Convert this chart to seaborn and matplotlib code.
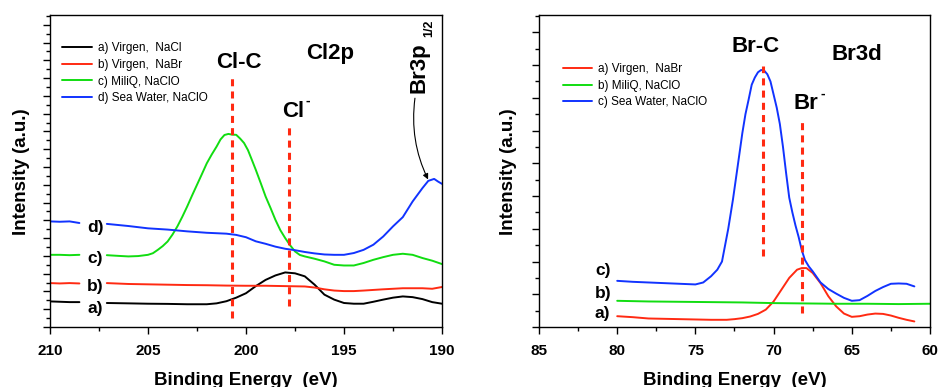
import numpy as np
import pandas as pd
import matplotlib
matplotlib.use("Agg")
import matplotlib.pyplot as plt
from matplotlib.ticker import MultipleLocator
import seaborn as sns

# ---------------- Cl2p panel data (binding energy in eV, intensity a.u.) ----------------
cl_names = ["a) Virgen,  NaCl", "b) Virgen,  NaBr", "c) MiliQ, NaClO", "d) Sea Water, NaClO"]
cl_colors = ["black", "#ff2a12", "#11dd11", "#1133ff"]

# short piece before the label gap
cl_x_start = [210, 209.5, 209, 208.5]
cl_a_start = [1.44, 1.42, 1.40, 1.40]
cl_b_start = [2.47, 2.45, 2.47, 2.45]
cl_c_start = [4.06, 4.06, 4.04, 4.06]
cl_d_start = [5.94, 5.92, 5.94, 5.85]

cl_a_x = [207.1, 206, 205, 204, 203, 202, 201.5, 201, 200.5, 200, 199.5, 199, 198.5, 198, 197.5,
          197, 196.5, 196, 195.5, 195, 194.5, 194, 193.5, 193, 192.5, 192, 191.5, 191, 190.5, 190]
cl_a_y = [1.35, 1.33, 1.31, 1.30, 1.28, 1.28, 1.33, 1.45, 1.65, 1.90, 2.30, 2.65, 2.90, 3.07, 3.02,
          2.85, 2.38, 1.82, 1.54, 1.35, 1.31, 1.31, 1.42, 1.54, 1.65, 1.72, 1.68, 1.57, 1.40, 1.31]

cl_b_x = [207.1, 206, 205, 204, 203, 202, 201, 200, 199, 198, 197, 196.5, 196, 195.5, 195, 194.5,
          194, 193, 192, 191, 190.5, 190]
cl_b_y = [2.47, 2.42, 2.40, 2.38, 2.36, 2.35, 2.33, 2.32, 2.32, 2.30, 2.28, 2.22, 2.12, 2.05, 2.02,
          2.02, 2.05, 2.12, 2.18, 2.18, 2.15, 2.25]

cl_c_x = [207.1, 206.5, 206, 205.5, 205, 204.75, 204.5, 204.25, 204, 203.75, 203.5, 203.25, 203,
          202.75, 202.5, 202.25, 202, 201.75, 201.5, 201.3, 201.1, 200.9, 200.7, 200.5, 200.3,
          200.1, 199.9, 199.7, 199.5, 199.25, 199, 198.75, 198.5, 198.25, 198, 197.75, 197.5,
          197.25, 197, 196.5, 196, 195.5, 195, 194.5, 194, 193.5, 193, 192.5, 192, 191.5, 191,
          190.5, 190]
cl_c_y = [4.04, 4.00, 3.97, 3.99, 4.06, 4.15, 4.34, 4.55, 4.81, 5.20, 5.66, 6.20, 6.78,
          7.40, 8.00, 8.60, 9.21, 9.70, 10.15, 10.55, 10.80, 10.86, 10.82, 10.81, 10.60,
          10.35, 9.95, 9.40, 8.84, 8.10, 7.34, 6.70, 6.03, 5.45, 5.00, 4.60, 4.25,
          4.05, 3.97, 3.84, 3.69, 3.50, 3.46, 3.46, 3.60, 3.78, 3.93, 4.06, 4.12, 4.06, 3.88,
          3.73, 3.54]

cl_d_x = [207.1, 206, 205, 204, 203, 202, 201, 200.5, 200, 199.5, 199, 198.5, 198, 197.5, 197,
          196.5, 196, 195.5, 195, 194.5, 194, 193.5, 193, 192.5, 192, 191.5, 191, 190.7, 190.4,
          190.2, 190]
cl_d_y = [5.80, 5.68, 5.55, 5.48, 5.38, 5.30, 5.25, 5.18, 5.05, 4.82, 4.68, 4.52, 4.40, 4.32, 4.22,
          4.14, 4.08, 4.06, 4.06, 4.16, 4.34, 4.63, 5.09, 5.66, 6.18, 7.06, 7.81, 8.22, 8.33,
          8.18, 8.05]

cl_peaks = [200.7, 197.8]
cl_peak_top = [14.08, 11.42]
cl_peak_bottom = [0.50, 1.16]

# ---------------- Br3d panel data ----------------
br_names = ["a) Virgen,  NaBr", "b) MiliQ, NaClO", "c) Sea Water, NaClO"]
br_colors = ["#ff2a12", "#11dd11", "#1133ff"]

br_a_x = [80, 79, 78, 77, 76, 75, 74, 73, 72.5, 72, 71.5, 71, 70.5, 70, 69.5, 69, 68.5, 68.2, 67.9,
          67.5, 67, 66.5, 66, 65.5, 65, 64.5, 64, 63.5, 63, 62.5, 62, 61.5, 61]
br_a_y = [0.33, 0.30, 0.26, 0.25, 0.24, 0.23, 0.22, 0.22, 0.24, 0.27, 0.32, 0.40, 0.53, 0.78, 1.14,
          1.50, 1.75, 1.80, 1.80, 1.65, 1.34, 0.94, 0.63, 0.41, 0.31, 0.33, 0.38, 0.41, 0.40, 0.35,
          0.28, 0.22, 0.17]

br_b_x = [80, 78, 76, 74, 72, 70, 68, 66, 64, 62, 60]
br_b_y = [0.80, 0.78, 0.77, 0.76, 0.75, 0.73, 0.72, 0.71, 0.71, 0.70, 0.71]

br_c_x = [80, 79, 78, 77, 76, 75, 74.5, 74, 73.6, 73.3, 73.1, 72.9, 72.6, 72.3, 72.0, 71.8, 71.6,
          71.4, 71.2, 71.0, 70.8, 70.6, 70.4, 70.2, 70.0, 69.8, 69.6, 69.4, 69.2, 69.0, 68.8, 68.6,
          68.4, 68.2, 68.0, 67.75, 67.5, 67, 66.5, 66, 65.5, 65, 64.5, 64, 63.5, 63, 62.5, 62,
          61.5, 61]
br_c_y = [1.41, 1.38, 1.36, 1.34, 1.32, 1.30, 1.36, 1.55, 1.75, 2.00, 2.50, 3.00, 3.89, 4.90,
          5.92, 6.50, 6.94, 7.40, 7.62, 7.78, 7.85, 7.83, 7.72, 7.50, 7.10, 6.70, 6.20, 5.50, 4.70,
          3.95, 3.50, 3.10, 2.75, 2.35, 2.05, 1.85, 1.70, 1.36, 1.16, 1.02, 0.89, 0.80, 0.82,
          0.95, 1.10, 1.22, 1.32, 1.33, 1.32, 1.24]

br_peaks = [70.7, 68.2]
br_peak_top = [7.98, 6.25]
br_peak_bottom = [2.16, 0.43]

# ---------------- style ----------------
sns.set_style("ticks")
plt.rcParams["font.family"] = ["Liberation Sans", "DejaVu Sans"]
plt.rcParams["font.weight"] = "bold"
for key in ["text.color", "axes.labelcolor", "xtick.color", "ytick.color", "axes.edgecolor"]:
    plt.rcParams[key] = "black"
plt.rcParams["axes.linewidth"] = 1.0

fig = plt.figure(figsize=(9.39, 3.87), dpi=100)
ax1 = fig.add_axes([50 / 939, 60 / 387, 392 / 939, 312 / 387])
ax2 = fig.add_axes([539 / 939, 60 / 387, 391 / 939, 312 / 387])

# left panel curves
starts = [cl_a_start, cl_b_start, cl_c_start, cl_d_start]
mains = [(cl_a_x, cl_a_y), (cl_b_x, cl_b_y), (cl_c_x, cl_c_y), (cl_d_x, cl_d_y)]
for name, col, st, (mx, my) in zip(cl_names, cl_colors, starts, mains):
    sns.lineplot(x=cl_x_start, y=st, ax=ax1, color=col, lw=1.4, sort=False)
    sns.lineplot(x=mx, y=my, ax=ax1, color=col, lw=1.4, sort=False, label=name)

ax1.vlines(cl_peaks, cl_peak_bottom, cl_peak_top, colors="#ff2a12", lw=2.2,
           linestyles=(0, (2.3, 1.7)))

# right panel curves
for name, col, (mx, my) in zip(br_names, br_colors,
                               [(br_a_x, br_a_y), (br_b_x, br_b_y), (br_c_x, br_c_y)]):
    sns.lineplot(x=mx, y=my, ax=ax2, color=col, lw=1.4, sort=False, label=name)

ax2.vlines(br_peaks, br_peak_bottom, br_peak_top, colors="#ff2a12", lw=2.2,
           linestyles=(0, (2.3, 1.7)))

# axes formatting
for ax, xl, ymax, legpos in [(ax1, (210, 190), 17.55, (0.031, 0.913)),
                             (ax2, (85, 60), 9.53, (0.061, 0.846))]:
    ax.set_xlim(*xl)
    ax.set_ylim(0, ymax)
    ax.xaxis.set_major_locator(MultipleLocator(5))
    ax.xaxis.set_minor_locator(MultipleLocator(2.5))
    ax.yaxis.set_major_locator(MultipleLocator(1))
    ax.yaxis.set_minor_locator(MultipleLocator(0.5))
    ax.set_yticklabels([])
    ax.tick_params(which="major", length=5, width=1, direction="out", labelsize=11, pad=7)
    ax.tick_params(which="minor", length=3, width=1, direction="out")
    for lab in ax.get_xticklabels():
        lab.set_fontweight("bold")
    ax.set_xlabel("Binding Energy  (eV)", fontsize=13.5, fontweight="bold")
    ax.xaxis.set_label_coords(0.5, -0.143)
    ax.set_ylabel("Intensity (a.u.)", fontsize=13.5, fontweight="bold")
    leg = ax.legend(loc="upper left", bbox_to_anchor=legpos, frameon=False, fontsize=8.5,
                    handlelength=2.5, handletextpad=0.5, labelspacing=0.4,
                    borderpad=0, borderaxespad=0)
    for t in leg.get_texts():
        t.set_fontweight("normal")

ax1.yaxis.set_label_coords(-0.05, 0.497)
ax2.yaxis.set_label_coords(-0.055, 0.497)

# annotations, left
big = dict(fontsize=16, fontweight="bold", va="baseline", ha="left")
sup = dict(fontsize=10, fontweight="bold", va="center", ha="center")
ax1.text(201.5, 14.55, "Cl-C", **big)
ax1.text(196.94, 15.1, "Cl2p", **big)
ax1.text(198.18, 11.8, "Cl", **big)
ax1.text(196.85, 12.75, "-", **sup)
ax1.text(191.17, 13.15, "Br3p", fontsize=16, fontweight="bold", rotation=90, ha="center", va="bottom")
ax1.text(190.66, 16.3, "1/2", fontsize=9, fontweight="bold", rotation=90, ha="center", va="bottom")
ax1.annotate("", xy=(190.71, 8.3), xytext=(191.38, 12.87),
             arrowprops=dict(arrowstyle="-|>", color="black", lw=0.8, mutation_scale=8,
                             connectionstyle="arc3,rad=0.15", shrinkA=0, shrinkB=0))
for lab, yv in zip(["a)", "b)", "c)", "d)"], [0.77, 2.04, 3.6, 5.33]):
    ax1.text(208.1, yv, lab, fontsize=12.5, fontweight="bold", va="baseline", ha="left")

# annotations, right
ax2.text(72.68, 8.39, "Br-C", **big)
ax2.text(66.29, 8.16, "Br3d", **big)
ax2.text(68.74, 6.67, "Br", **big)
ax2.text(66.85, 7.12, "-", **sup)
for lab, yv in zip(["a)", "b)", "c)"], [0.26, 0.89, 1.59]):
    ax2.text(81.42, yv, lab, fontsize=12.5, fontweight="bold", va="baseline", ha="left")

fig.savefig("out.png", dpi=100)
